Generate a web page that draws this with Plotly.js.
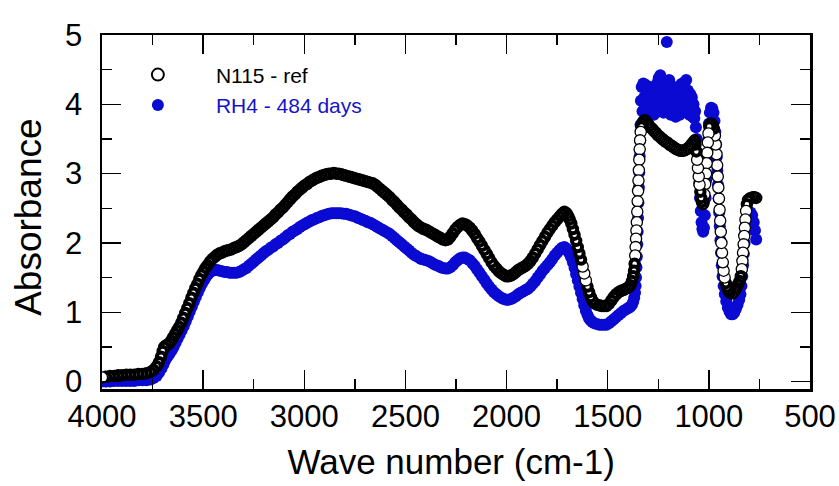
<!DOCTYPE html>
<html>
<head>
<meta charset="utf-8">
<script src="https://cdn.plot.ly/plotly-3.0.1.min.js"></script>
<style>html,body{margin:0;padding:0;background:#fff;}#chart{width:839px;height:486px;}</style>
</head>
<body>
<div id="chart"></div>
<script>
// N115 - ref (open circles): wave number (cm-1) and absorbance
const refWave = [4000,3980,3960,3940,3920,3900,3880,3860,3840,3820,3800,3780,3760,3745,3730,3718,3708,3700,3692,3684,3676,3668,3658,3648,3638,3628,3618,3608,3598,3588,3578,3568,3558,3548,3538,3528,3518,3508,3498,3488,3478,3466,3454,3442,3430,3418,3406,3394,3382,3370,3358,3346,3334,3322,3310,3298,3286,3274,3262,3250,3238,3226,3214,3202,3190,3178,3166,3154,3142,3130,3118,3106,3094,3082,3070,3058,3046,3034,3022,3010,2998,2986,2974,2962,2950,2938,2926,2914,2902,2890,2878,2866,2854,2842,2830,2818,2806,2794,2782,2770,2758,2746,2734,2722,2710,2698,2686,2674,2662,2650,2638,2626,2614,2602,2590,2578,2566,2554,2542,2530,2518,2506,2494,2482,2470,2458,2446,2434,2422,2410,2398,2386,2374,2362,2350,2338,2326,2314,2302,2290,2278,2266,2254,2242,2230,2218,2206,2194,2182,2170,2158,2146,2134,2122,2110,2098,2086,2074,2062,2050,2038,2026,2014,2002,1990,1978,1966,1954,1942,1930,1918,1906,1894,1882,1870,1858,1846,1834,1822,1810,1798,1786,1774,1762,1750,1738,1726,1714,1704,1696,1688,1680,1672,1664,1656,1648,1640,1632,1624,1616,1608,1600,1592,1584,1576,1566,1554,1542,1530,1518,1506,1494,1482,1470,1458,1446,1434,1422,1410,1398,1388,1380,1374,1370,1367,1364,1362,1360,1358,1356,1354,1352,1350,1348,1346,1344,1342,1340,1337,1333,1328,1322,1316,1310,1302,1294,1286,1278,1270,1262,1254,1246,1238,1230,1222,1214,1206,1198,1190,1182,1174,1166,1158,1150,1142,1134,1126,1118,1110,1102,1094,1086,1078,1070,1066,1062,1058,1054,1050,1046,1042,1038,1034,1030,1026,1022,1018,1014,1011,1008,1005,1002,998,993,987,981,975,970,966,962,959,956,953,950,947,944,941,938,935,931,927,922,916,910,903,896,888,880,872,864,856,848,842,837,834,831,828,825,822,819,816,812,806,798,790,782,774,766];
const refAbs = [0.06,0.07,0.08,0.08,0.09,0.09,0.10,0.10,0.10,0.11,0.11,0.12,0.14,0.17,0.22,0.28,0.36,0.44,0.50,0.52,0.53,0.55,0.59,0.64,0.69,0.74,0.79,0.85,0.92,0.99,1.06,1.13,1.21,1.28,1.35,1.41,1.48,1.54,1.59,1.64,1.68,1.73,1.77,1.80,1.83,1.85,1.86,1.88,1.89,1.90,1.91,1.93,1.94,1.96,1.98,2.01,2.04,2.07,2.10,2.13,2.16,2.19,2.22,2.25,2.28,2.31,2.34,2.37,2.41,2.44,2.48,2.51,2.55,2.59,2.63,2.67,2.70,2.74,2.77,2.80,2.83,2.85,2.88,2.90,2.92,2.94,2.95,2.97,2.98,2.99,3.00,3.00,3.01,3.00,3.00,2.99,2.98,2.97,2.96,2.95,2.94,2.93,2.92,2.91,2.90,2.89,2.88,2.87,2.86,2.84,2.81,2.78,2.75,2.72,2.69,2.66,2.62,2.59,2.55,2.51,2.48,2.44,2.41,2.37,2.34,2.30,2.27,2.24,2.22,2.20,2.19,2.17,2.15,2.13,2.11,2.09,2.07,2.05,2.04,2.05,2.09,2.14,2.19,2.23,2.26,2.28,2.27,2.25,2.22,2.18,2.13,2.07,2.02,1.96,1.90,1.84,1.78,1.72,1.67,1.63,1.59,1.56,1.54,1.52,1.52,1.53,1.55,1.58,1.61,1.63,1.65,1.67,1.70,1.74,1.79,1.85,1.91,1.97,2.03,2.09,2.15,2.20,2.25,2.30,2.34,2.38,2.42,2.45,2.43,2.39,2.34,2.28,2.20,2.12,2.03,1.94,1.85,1.76,1.66,1.56,1.46,1.37,1.29,1.22,1.17,1.13,1.11,1.10,1.09,1.09,1.09,1.12,1.17,1.22,1.26,1.29,1.31,1.32,1.34,1.36,1.39,1.45,1.52,1.60,1.70,1.82,1.94,2.06,2.18,2.30,2.45,2.60,2.75,2.90,3.05,3.20,3.35,3.48,3.60,3.68,3.73,3.76,3.77,3.75,3.72,3.69,3.66,3.64,3.61,3.59,3.56,3.54,3.52,3.50,3.48,3.46,3.45,3.43,3.41,3.40,3.38,3.36,3.35,3.34,3.33,3.33,3.33,3.34,3.35,3.37,3.39,3.42,3.45,3.48,3.42,3.32,3.20,3.08,2.96,2.84,2.74,2.65,2.59,2.56,2.58,2.70,2.85,3.00,3.15,3.30,3.45,3.58,3.68,3.72,3.72,3.70,3.65,3.55,3.42,3.28,3.12,2.96,2.80,2.64,2.48,2.32,2.16,2.00,1.86,1.72,1.60,1.50,1.42,1.36,1.31,1.28,1.27,1.28,1.31,1.35,1.40,1.45,1.52,1.62,1.74,1.86,1.98,2.10,2.22,2.34,2.46,2.56,2.62,2.64,2.65,2.66,2.66,2.65];

// RH4 - 484 days (filled blue circles)
const rhWave = [4000,3980,3960,3940,3920,3900,3880,3860,3840,3820,3800,3780,3760,3745,3730,3718,3706,3696,3686,3676,3666,3656,3646,3636,3626,3616,3606,3596,3586,3576,3566,3556,3546,3536,3526,3516,3506,3496,3486,3476,3466,3454,3442,3430,3418,3406,3394,3382,3370,3358,3346,3334,3322,3310,3298,3286,3274,3262,3250,3238,3226,3214,3202,3190,3178,3166,3154,3142,3130,3118,3106,3094,3082,3070,3058,3046,3034,3022,3010,2998,2986,2974,2962,2950,2938,2926,2914,2902,2890,2878,2866,2854,2842,2830,2818,2806,2794,2782,2770,2758,2746,2734,2722,2710,2698,2686,2674,2662,2650,2638,2626,2614,2602,2590,2578,2566,2554,2542,2530,2518,2506,2494,2482,2470,2458,2446,2434,2422,2410,2398,2386,2374,2362,2350,2338,2326,2314,2302,2290,2278,2266,2254,2242,2230,2218,2206,2194,2182,2170,2158,2146,2134,2122,2110,2098,2086,2074,2062,2050,2038,2026,2014,2002,1990,1978,1966,1954,1942,1930,1918,1906,1894,1882,1870,1858,1846,1834,1822,1810,1798,1786,1774,1762,1750,1738,1726,1714,1704,1696,1688,1680,1672,1664,1656,1648,1640,1632,1624,1616,1608,1600,1592,1584,1576,1566,1554,1542,1530,1518,1506,1494,1482,1470,1458,1446,1434,1422,1410,1398,1388,1380,1374,1369,1365,1362,1360,1358,1356,1354,1352,1350,1348,1346,1344,1342,1340,1338,1336,1332,1328,1324,1320,1316,1312,1308,1304,1300,1296,1292,1288,1284,1280,1276,1272,1268,1264,1260,1256,1252,1248,1244,1240,1236,1232,1228,1224,1220,1216,1212,1208,1204,1200,1196,1192,1188,1184,1180,1176,1172,1168,1164,1160,1156,1152,1148,1144,1140,1136,1132,1128,1124,1120,1116,1112,1108,1104,1100,1096,1092,1088,1084,1080,1076,1072,1068,1064,1060,1056,1052,1048,1044,1040,1036,1032,1028,1024,1020,1016,1012,1008,1004,1000,995,989,983,977,972,968,964,961,958,955,952,949,946,943,940,936,932,927,921,914,906,898,890,882,874,866,858,850,844,839,835,831,827,823,819,815,810,802,794,786,778,772,766];
const rhAbs = [0.00,0.00,0.00,0.01,0.01,0.01,0.01,0.01,0.01,0.02,0.02,0.02,0.03,0.05,0.08,0.13,0.19,0.25,0.31,0.36,0.40,0.45,0.50,0.56,0.62,0.68,0.74,0.80,0.87,0.94,1.01,1.08,1.15,1.22,1.29,1.35,1.41,1.46,1.51,1.55,1.58,1.60,1.61,1.61,1.60,1.59,1.58,1.58,1.57,1.57,1.57,1.57,1.58,1.60,1.62,1.64,1.67,1.70,1.73,1.76,1.79,1.82,1.85,1.88,1.90,1.93,1.95,1.98,2.00,2.03,2.05,2.08,2.11,2.13,2.16,2.18,2.20,2.23,2.25,2.27,2.29,2.31,2.33,2.34,2.36,2.37,2.39,2.40,2.41,2.42,2.43,2.43,2.43,2.43,2.43,2.42,2.42,2.41,2.40,2.39,2.38,2.36,2.35,2.33,2.32,2.30,2.29,2.27,2.25,2.23,2.21,2.19,2.17,2.15,2.13,2.10,2.07,2.04,2.01,1.98,1.95,1.92,1.89,1.86,1.83,1.81,1.79,1.77,1.76,1.75,1.74,1.72,1.70,1.68,1.67,1.65,1.64,1.63,1.63,1.65,1.68,1.72,1.75,1.78,1.79,1.79,1.77,1.75,1.71,1.67,1.62,1.57,1.52,1.47,1.42,1.37,1.33,1.29,1.26,1.23,1.21,1.19,1.18,1.18,1.19,1.21,1.23,1.26,1.28,1.30,1.32,1.34,1.37,1.41,1.45,1.50,1.55,1.60,1.64,1.68,1.72,1.77,1.82,1.86,1.90,1.93,1.94,1.92,1.88,1.84,1.79,1.72,1.64,1.55,1.46,1.37,1.28,1.19,1.10,1.02,0.96,0.91,0.88,0.86,0.84,0.83,0.82,0.82,0.82,0.82,0.84,0.87,0.90,0.93,0.96,0.99,1.02,1.04,1.06,1.08,1.11,1.15,1.21,1.28,1.38,1.50,1.65,1.80,1.98,2.16,2.36,2.58,2.80,3.02,3.25,3.48,3.70,4.05,4.25,3.90,4.30,4.10,3.95,4.28,4.15,3.88,4.20,4.05,4.25,3.92,4.12,4.00,4.22,3.85,4.10,4.18,3.95,4.30,4.05,4.38,3.90,4.42,4.20,4.00,4.35,3.88,4.15,4.30,4.05,4.90,3.95,4.25,4.35,4.10,3.85,4.20,4.00,4.25,3.92,4.15,3.82,4.05,4.22,3.90,4.12,3.85,4.28,4.02,4.30,3.95,4.18,4.32,4.05,4.35,3.92,4.20,4.05,3.85,4.15,3.95,4.10,3.82,4.00,3.80,3.90,3.67,3.50,3.30,3.08,2.86,2.65,2.46,2.30,2.20,2.16,2.22,2.40,2.65,2.92,3.20,3.48,3.72,3.88,3.95,3.94,3.88,3.76,3.60,3.42,3.24,3.04,2.84,2.64,2.44,2.24,2.04,1.86,1.68,1.52,1.38,1.26,1.16,1.07,1.01,0.97,0.97,1.00,1.05,1.11,1.18,1.26,1.38,1.52,1.68,1.84,2.00,2.16,2.30,2.40,2.44,2.44,2.40,2.30,2.18,2.05];

const xTickVals = [4000,3500,3000,2500,2000,1500,1000,500];
const yTickVals = [0,1,2,3,4,5];

const FONT = '"Liberation Sans", Arial, Helvetica, sans-serif';
const X_RANGE = [4000, 500];
const Y_RANGE = [-0.107, 5];
const PLOT_W = 839 - 102 - 29, PLOT_H = 486 - 35 - 97;

// draw the reference series from the 4000 end last (as in the original plot)
const refX = refWave.slice().reverse();
const refY = refAbs.slice().reverse();
// outline weight follows how tightly the drawn rings stack on screen
const pxX = PLOT_W / Math.abs(X_RANGE[0] - X_RANGE[1]);
const pxY = PLOT_H / (Y_RANGE[1] - Y_RANGE[0]);
const refLineW = refX.map((v, i) => {
  if (i === refX.length - 1) return 1.4;
  const dx = (refX[i + 1] - v) * pxX, dy = (refY[i + 1] - refY[i]) * pxY;
  const d = Math.hypot(dx, dy);
  return d < 7 ? Math.min(4, Math.max(1.3, d + 0.4)) : 1.3;
});
const refSize = refLineW.map(w => 12.5 - w);

const traces = [
  {
    x: rhWave, y: rhAbs, type: 'scatter', mode: 'markers',
    name: '<span style="color:#1414c8">RH4 - 484 days</span>',
    marker: {symbol: 'circle', size: 12, opacity: 1, color: '#0a0ad2', line: {width: 0}}
  },
  {
    x: refX, y: refY, type: 'scatter', mode: 'markers',
    name: 'N115 - ref',
    marker: {symbol: 'circle', size: refSize, opacity: 1, color: '#ffffff', line: {color: '#000000', width: refLineW}}
  }
];

const axisCommon = {
  showgrid: false, zeroline: false, showline: true, linecolor: '#000', linewidth: 2.5,
  mirror: 'ticks', ticks: 'inside', tickcolor: '#000', tickwidth: 1.5,
  tickfont: {family: FONT, size: 31, color: '#000'}
};

const layout = {
  width: 839, height: 486,
  margin: {l: 102, r: 29, t: 35, b: 97},
  paper_bgcolor: '#fff', plot_bgcolor: '#fff',
  font: {family: FONT, color: '#000'},
  showlegend: true,
  legend: {
    x: -0.003, y: 0.945, xanchor: 'left', yanchor: 'top',
    traceorder: 'reversed', bgcolor: 'rgba(0,0,0,0)',
    font: {family: FONT, size: 21, color: '#000'},
    itemwidth: 106, itemsizing: 'constant'
  },
  xaxis: Object.assign({}, axisCommon, {
    range: X_RANGE, tickvals: xTickVals, ticktext: xTickVals.map(String),
    ticklen: 19, ticklabelstandoff: -2,
    minor: {dtick: 250, tick0: 0, ticks: 'inside', ticklen: 10, tickcolor: '#000', tickwidth: 1.5, showgrid: false},
    title: {text: 'Wave number (cm-1)&nbsp;', font: {family: FONT, size: 35, color: '#000'}, standoff: 17}
  }),
  yaxis: Object.assign({}, axisCommon, {
    range: Y_RANGE, tickvals: yTickVals, ticktext: yTickVals.map(String),
    ticklen: 19, ticklabelstandoff: 11,
    minor: {dtick: 0.5, tick0: 0, ticks: 'inside', ticklen: 10, tickcolor: '#000', tickwidth: 1.5, showgrid: false},
    title: {text: 'Absorbance&nbsp;', font: {family: FONT, size: 37, color: '#000'}, standoff: 12}
  })
};

Plotly.newPlot('chart', traces, layout, {staticPlot: true, displayModeBar: false});
</script>
</body>
</html>
